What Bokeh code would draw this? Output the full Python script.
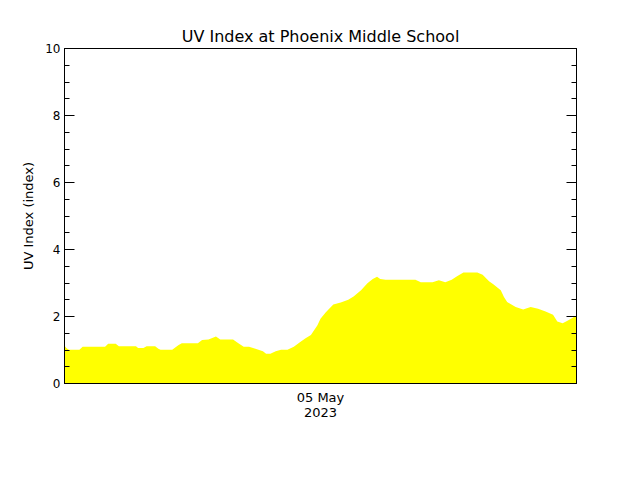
import numpy as np
import pandas as pd
from bokeh.plotting import figure
from bokeh.models import FixedTicker, DatetimeTickFormatter, LinearAxis, Range1d, CustomJSTickFormatter
from bokeh.embed import file_html
from bokeh.resources import INLINE

title_text = "UV Index at Phoenix Middle School"
y_label = "UV Index (index)"
start = "2023-05-04 00:00"
end = "2023-05-06 00:00"
x_tick = "2023-05-05 00:00"
y_ticks = [0, 2, 4, 6, 8, 10]

# hours since start, UV index
hours = [0.0, 0.2, 0.4, 1.4, 1.7, 3.8, 4.1, 4.8, 5.1, 6.7, 6.9, 7.4, 7.7, 8.5,
         8.8, 9.0, 10.1, 10.7, 11.0, 12.5, 12.9, 13.5, 14.2, 14.6, 15.8, 16.3,
         16.8, 17.3, 17.9, 18.6, 18.9, 19.3, 19.8, 20.3, 20.9, 21.5, 22.1, 22.6,
         23.1, 23.7, 24.0, 24.5, 25.2, 25.9, 26.6, 27.1, 27.8, 28.4, 28.9, 29.3,
         29.6, 30.1, 32.9, 33.4, 34.5, 35.1, 35.7, 36.3, 36.8, 37.4, 38.7, 39.2,
         39.8, 40.2, 40.9, 41.2, 41.5, 42.3, 43.0, 43.7, 44.4, 45.1, 45.8, 46.2,
         46.7, 47.2, 48.0]
uv = [1.13, 1.05, 1.01, 1.01, 1.10, 1.10, 1.19, 1.19, 1.11, 1.11, 1.06, 1.06,
      1.11, 1.11, 1.04, 1.01, 1.01, 1.15, 1.20, 1.20, 1.30, 1.31, 1.40, 1.31,
      1.31, 1.20, 1.10, 1.10, 1.04, 0.96, 0.89, 0.89, 0.96, 1.01, 1.01, 1.10,
      1.24, 1.35, 1.45, 1.73, 1.93, 2.13, 2.36, 2.42, 2.50, 2.60, 2.78, 2.99,
      3.12, 3.19, 3.12, 3.10, 3.10, 3.02, 3.02, 3.08, 3.02, 3.10, 3.20, 3.31,
      3.31, 3.25, 3.05, 2.96, 2.78, 2.58, 2.43, 2.28, 2.21, 2.28, 2.23, 2.15,
      2.05, 1.85, 1.80, 1.88, 2.03]

t0 = pd.Timestamp(start)
times = t0 + pd.to_timedelta(hours, unit="h")

FONT = "DejaVu Sans"

p = figure(width=632, height=472, x_axis_type="datetime",
           x_range=Range1d(pd.Timestamp(start), pd.Timestamp(end)),
           y_range=Range1d(0, 10),
           frame_width=512, frame_height=335,
           min_border_left=64, min_border_right=56,
           min_border_top=48, min_border_bottom=89,
           output_backend="svg", toolbar_location=None,
           background_fill_color="white", border_fill_color="white")

p.varea(x=times, y1=np.zeros(len(uv)), y2=uv, fill_color="#ffff00", fill_alpha=1.0)

p.xgrid.visible = False
p.ygrid.visible = False
p.outline_line_color = "black"
p.outline_line_width = 1
p.outline_line_alpha = 1.0

p.title.text = title_text
p.title.align = "center"
p.title.text_font = FONT
p.title.text_font_size = "16px"
p.title.text_font_style = "normal"
p.title.text_color = "black"
p.title.standoff = 6

minor = list(np.arange(0, 10.01, 0.5))

ya = p.yaxis[0]
ya.ticker = FixedTicker(ticks=y_ticks, minor_ticks=minor)
ya.axis_label = y_label
ya.axis_label_text_font = FONT
ya.axis_label_text_font_size = "13px"
ya.axis_label_text_font_style = "normal"
ya.axis_label_text_color = "black"
ya.axis_label_standoff = 6
ya.major_label_text_font = FONT
ya.major_label_text_font_size = "12px"
ya.major_label_text_color = "black"
ya.major_label_standoff = 4
ya.major_tick_in = 10
ya.major_tick_out = 0
ya.minor_tick_in = 5
ya.minor_tick_out = 0
ya.axis_line_color = "black"
ya.major_tick_line_color = "black"
ya.minor_tick_line_color = "black"

ra = LinearAxis(ticker=FixedTicker(ticks=y_ticks, minor_ticks=minor),
                formatter=CustomJSTickFormatter(code="return ''"),
                major_label_standoff=0,
                major_tick_in=10, major_tick_out=0,
                minor_tick_in=5, minor_tick_out=0,
                axis_line_color="black")
p.add_layout(ra, "right")

xa = p.xaxis[0]
xa.ticker = FixedTicker(ticks=[pd.Timestamp(x_tick).value / 1e6], minor_ticks=[])
fmt = "%d %b\n%Y"
xa.formatter = DatetimeTickFormatter(milliseconds=fmt, seconds=fmt, minsec=fmt,
                                     minutes=fmt, hourmin=fmt, hours=fmt,
                                     days=fmt, months=fmt, years=fmt)
xa.major_tick_in = 0
xa.major_tick_out = 0
xa.minor_tick_in = 0
xa.minor_tick_out = 0
xa.major_label_text_font = FONT
xa.major_label_text_font_size = "13px"
xa.major_label_text_color = "black"
xa.major_label_text_line_height = 1.0
xa.major_label_standoff = 6
xa.axis_line_color = "black"

open("out.html", "w").write(file_html(p, INLINE))
